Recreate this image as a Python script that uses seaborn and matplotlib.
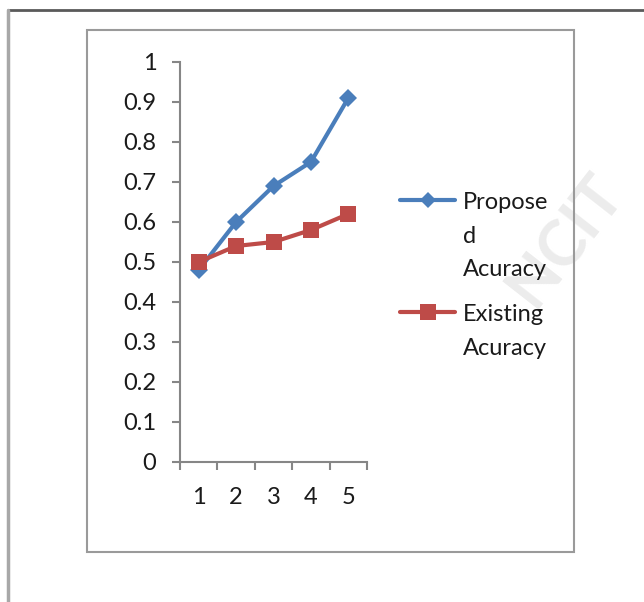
import pandas as pd
import matplotlib
matplotlib.use("Agg")
import matplotlib.pyplot as plt
from matplotlib.patches import Rectangle
from matplotlib.lines import Line2D
import seaborn as sns

steps = [1, 2, 3, 4, 5]
proposed = [0.48, 0.60, 0.69, 0.75, 0.91]
existing = [0.50, 0.54, 0.55, 0.58, 0.62]
series_names = ["Propose\nd\nAcuracy", "Existing\nAcuracy"]
y_ticks = [0, 0.1, 0.2, 0.3, 0.4, 0.5, 0.6, 0.7, 0.8, 0.9, 1]
y_labels = ["0", "0.1", "0.2", "0.3", "0.4", "0.5", "0.6", "0.7", "0.8", "0.9", "1"]

BLUE = "#4A7EBB"
RED = "#BE4B48"
GRID = "#868686"
TEXT = "#1a1a1a"


def main():
    sns.set_style("white")
    plt.rcParams["font.family"] = ["Lato", "DejaVu Sans"]

    df = pd.DataFrame({
        "step": steps * 2,
        "value": proposed + existing,
        "series": [series_names[0]] * 5 + [series_names[1]] * 5,
    })

    W, H = 644, 602
    fig = plt.figure(figsize=(W / 100, H / 100), dpi=100)
    ax = fig.add_axes([180 / W, 1 - 462 / H, 187 / W, 400 / H])

    sns.lineplot(data=df, x="step", y="value", hue="series", style="series",
                 palette=[BLUE, RED], markers=["D", "s"], dashes=False,
                 linewidth=3, markersize=9, markeredgewidth=0, ax=ax, legend=False)
    # bigger square for the existing series
    ax.lines[1].set_markersize(12)

    ax.set_xlim(0.5, 5.5)
    ax.set_ylim(0, 1)
    ax.set_xticks(steps)
    ax.set_xticklabels([str(s) for s in steps])
    ax.set_xticks([s + 0.5 for s in [0] + steps], minor=True)
    ax.tick_params(axis="x", which="major", bottom=True, length=0, pad=18,
                   labelsize=17, colors=TEXT)
    ax.tick_params(axis="x", which="minor", bottom=True, length=6, width=1.5,
                   color=GRID, direction="out")
    ax.set_yticks(y_ticks)
    ax.set_yticklabels(y_labels)
    ax.tick_params(axis="y", left=True, length=6, width=1.5, color=GRID, pad=11,
                   labelsize=17, labelcolor=TEXT, direction="out")
    ax.set_xlabel("")
    ax.set_ylabel("")
    for side in ["top", "right"]:
        ax.spines[side].set_visible(False)
    for side in ["left", "bottom"]:
        ax.spines[side].set_color(GRID)
        ax.spines[side].set_linewidth(1.5)

    handles = [Line2D([], [], color=BLUE, lw=3, marker="D", markersize=8, markeredgewidth=0),
               Line2D([], [], color=RED, lw=3, marker="s", markersize=11, markeredgewidth=0)]
    leg = fig.legend(handles, series_names, loc="upper left",
                     bbox_to_anchor=(400 / W, 1 - 192 / H), frameon=False,
                     fontsize=17, handlelength=2.35, handletextpad=0.3,
                     labelspacing=1.0, borderpad=0, borderaxespad=0)
    for t in leg.get_texts():
        t.set_linespacing(1.75)
        t.set_color(TEXT)
    # put each handle next to the first line of its label
    for pack in leg._legend_handle_box.get_children():
        for row in pack.get_children():
            row.align = "top"

    # inner chart box and outer page frame
    fig.add_artist(Rectangle((87 / W, 1 - 552 / H), 487 / W, 522 / H, fill=False,
                             edgecolor="#9a9a9a", linewidth=1.5, transform=fig.transFigure))
    fig.add_artist(Line2D([8 / W, 1], [1 - 10 / H, 1 - 10 / H], color="#5a5a5a",
                          linewidth=2, transform=fig.transFigure))
    fig.add_artist(Line2D([8 / W, 8 / W], [0, 1 - 10 / H], color="#a8a8a8",
                          linewidth=2.5, transform=fig.transFigure))

    # faint watermark
    fig.text(566 / W, 1 - 240 / H, "NCIT", rotation=52, ha="center", va="center",
             fontsize=46, fontweight="bold", color="#ececec", zorder=0)

    fig.savefig("out.png", dpi=100)
    plt.close(fig)


if __name__ == "__main__":
    main()
